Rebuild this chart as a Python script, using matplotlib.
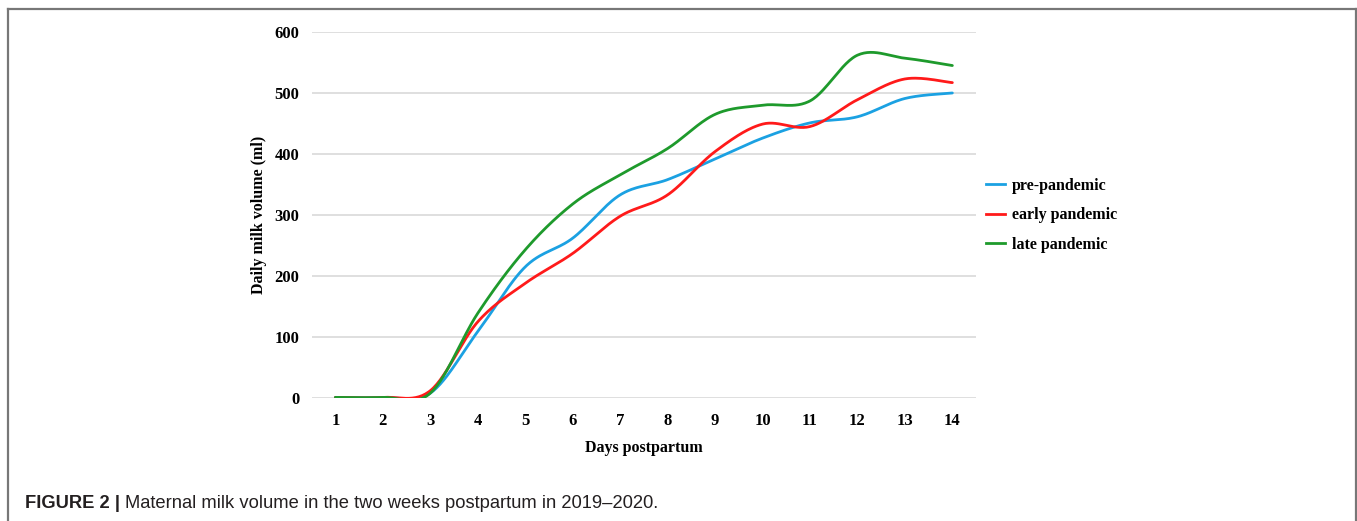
import matplotlib
matplotlib.use("Agg")
import matplotlib.pyplot as plt
from matplotlib.lines import Line2D
import numpy as np

days = [1, 2, 3, 4, 5, 6, 7, 8, 9, 10, 11, 12, 13, 14]
pre_pandemic = [1, 1, 8, 109, 215, 262, 333, 358, 392, 426, 451, 461, 491, 500]
early_pandemic = [1, 1, 12, 125, 188, 237, 298, 333, 404, 449, 445, 489, 523, 517]
late_pandemic = [1, 1, 8, 139, 243, 318, 366, 409, 465, 480, 487, 562, 557, 545]

series = [
    ("pre-pandemic", pre_pandemic, "#1ba1e2"),
    ("early pandemic", early_pandemic, "#ff1a1a"),
    ("late pandemic", late_pandemic, "#1e9a2c"),
]


def smooth(x, y, n=30):
    # Excel-style smoothed line: Catmull-Rom / cubic bezier between points
    x = np.asarray(x, float)
    y = np.asarray(y, float)
    px = np.concatenate([[x[0]], x, [x[-1]]])
    py = np.concatenate([[y[0]], y, [y[-1]]])
    xs, ys = [], []
    t = np.linspace(0, 1, n)
    for i in range(1, len(px) - 2):
        p0, p1, p2, p3 = (np.array([px[j], py[j]]) for j in (i - 1, i, i + 1, i + 2))
        c1 = p1 + (p2 - p0) / 6
        c2 = p2 - (p3 - p1) / 6
        b = ((1 - t) ** 3)[:, None] * p1 + (3 * (1 - t) ** 2 * t)[:, None] * c1 \
            + (3 * (1 - t) * t ** 2)[:, None] * c2 + (t ** 3)[:, None] * p2
        xs.extend(b[:, 0])
        ys.extend(b[:, 1])
    return np.array(xs), np.array(ys)


fig = plt.figure(figsize=(13.57, 5.21), dpi=100)
ax = fig.add_axes([0.2297, 0.2361, 0.7193 - 0.2297, 0.9386 - 0.2361])

serif = ["Liberation Serif", "DejaVu Serif"]

for name, vals, col in series:
    sx, sy = smooth(days, vals)
    ax.plot(sx, sy, color=col, lw=2, label=name, solid_capstyle="round")

ax.set_xlim(0.5, 14.5)
ax.set_ylim(0, 600)
ax.set_yticks(range(0, 601, 100))
ax.set_xticks(days)
ax.yaxis.grid(True, color="#d9d9d9", lw=1.2)
ax.set_axisbelow(True)
for s in ax.spines.values():
    s.set_visible(False)
ax.tick_params(length=0, labelsize=12)
ax.tick_params(axis="y", pad=9)
ax.tick_params(axis="x", pad=11)
for lab in ax.get_xticklabels() + ax.get_yticklabels():
    lab.set_family(serif)
    lab.set_fontweight("bold")

ax.set_xlabel("Days postpartum", family=serif, fontweight="bold", fontsize=11.5, labelpad=8)
ax.set_ylabel("Daily milk volume (ml)", family=serif, fontweight="bold", fontsize=11.5, labelpad=5)

handles = [Line2D([], [], color=c, lw=2) for _, _, c in series]
fig.legend(handles, [n for n, _, _ in series], loc="center left",
           bbox_to_anchor=(0.716, 0.587), frameon=False, handlelength=1.2,
           handletextpad=0.4, labelspacing=0.85,
           prop={"family": serif, "weight": "bold", "size": 11.5})

# outer frame
frame_col = "#777777"
fig.add_artist(Line2D([8 / 1357, 8 / 1357], [0, 1 - 9 / 521], color=frame_col, lw=1.6))
fig.add_artist(Line2D([8 / 1357, 1356 / 1357], [1 - 9 / 521, 1 - 9 / 521], color=frame_col, lw=1.6))
fig.add_artist(Line2D([1356 / 1357, 1356 / 1357], [0, 1 - 9 / 521], color=frame_col, lw=1.6))

sans = ["Liberation Sans", "DejaVu Sans"]
t1 = fig.text(25 / 1357, 1 - 503 / 521, "FIGURE 2 | ", family=sans, fontweight="bold",
              fontsize=13.2, va="center", color="#231f20")
fig.canvas.draw()
bb = t1.get_window_extent()
fig.text(bb.x1 / fig.bbox.width, 1 - 503 / 521,
         "Maternal milk volume in the two weeks postpartum in 2019\u20132020.",
         family=sans, fontsize=13.2, va="center", color="#231f20")

fig.savefig("out.png", dpi=100)
